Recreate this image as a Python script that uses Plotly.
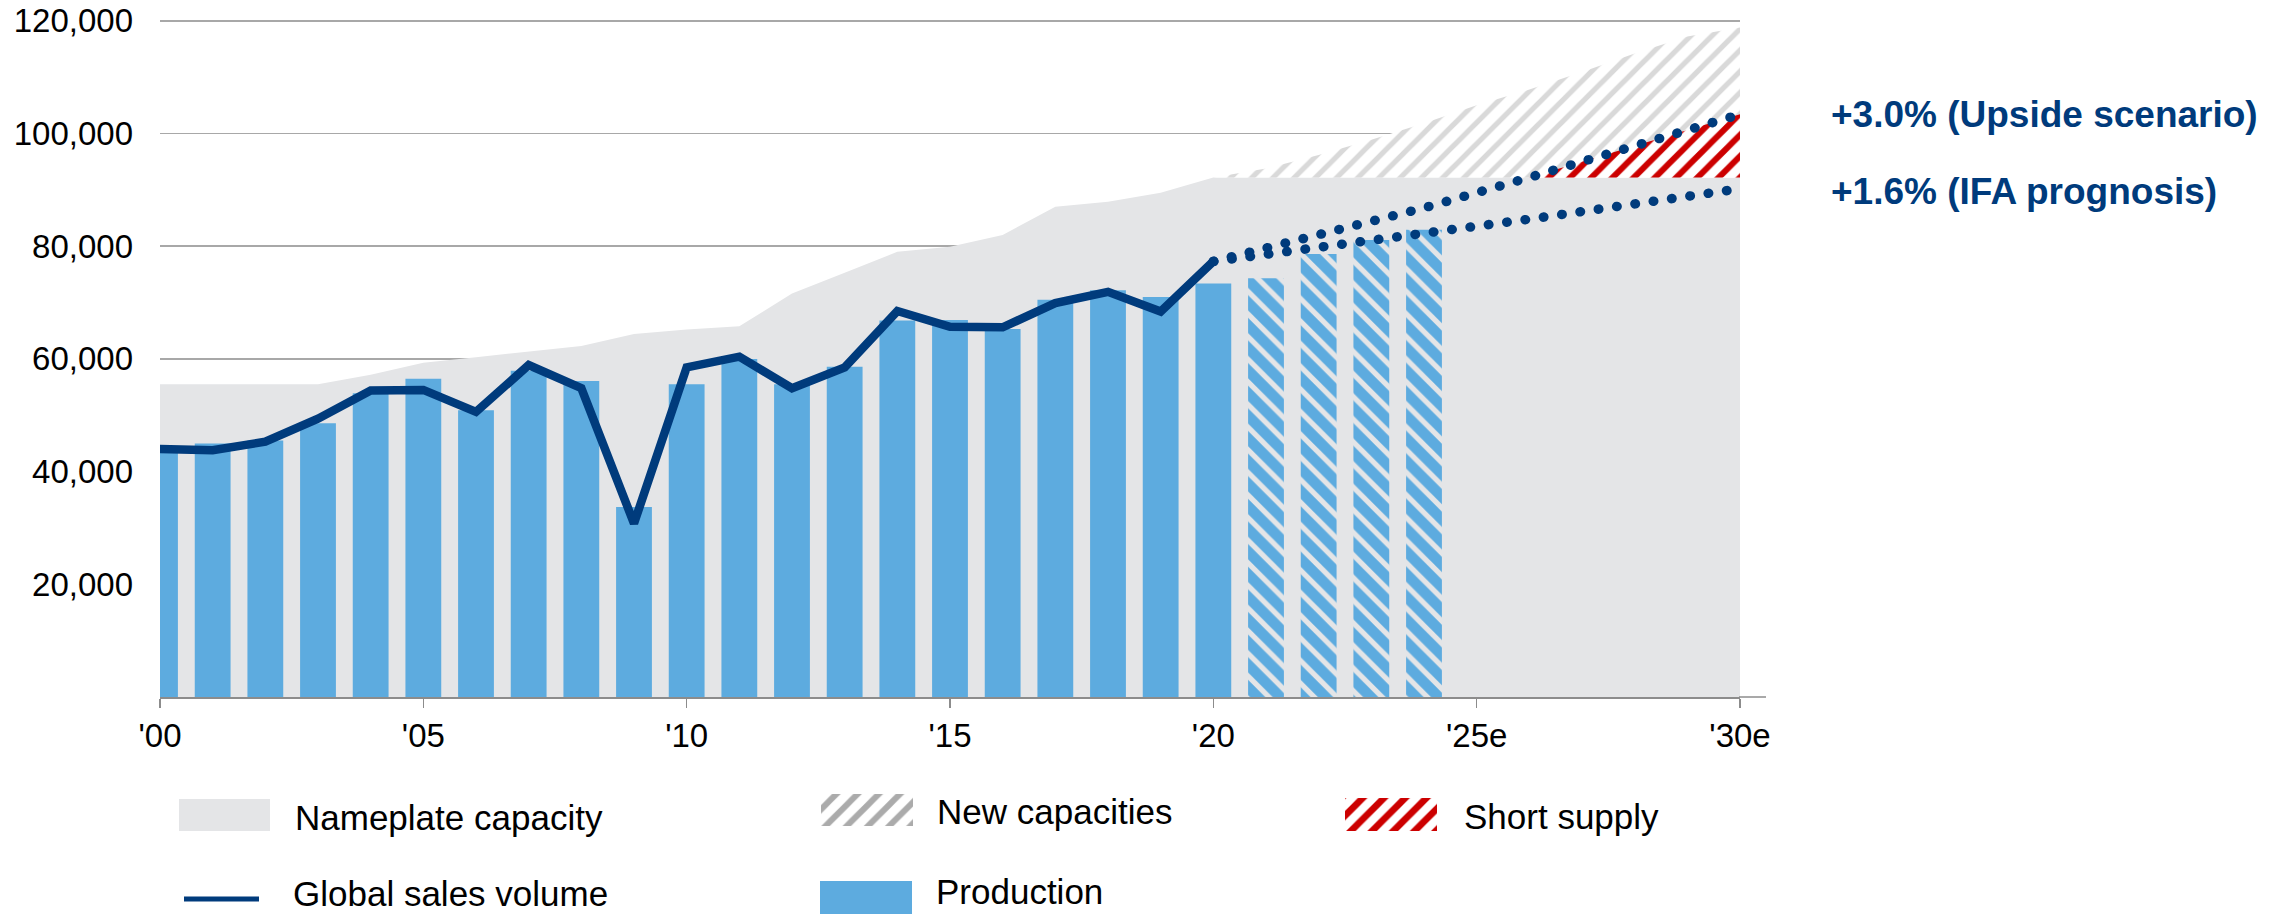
import plotly.graph_objects as go

W, H = 2287, 914

# ---------------- data ----------------
hist_years = [2000, 2001, 2002, 2003, 2004, 2005, 2006, 2007, 2008, 2009, 2010,
              2011, 2012, 2013, 2014, 2015, 2016, 2017, 2018, 2019, 2020]
production = [44000, 45000, 45500, 48600, 53900, 56500, 50900, 57900, 56100, 33700, 55500,
              60000, 55500, 58600, 66800, 66900, 65300, 70500, 72200, 71000, 73400]
sales_volume = [44000, 43800, 45300, 49400, 54400, 54500, 50600, 58900, 54800, 30800, 58500,
                60400, 54800, 58500, 68500, 65700, 65600, 69900, 71900, 68400, 77300]

forecast_years = [2021, 2022, 2023, 2024]
production_forecast = [74300, 78600, 81100, 82900]

capacity_years = [2000, 2001, 2002, 2003, 2004, 2005, 2006, 2007, 2008, 2009, 2010,
                  2011, 2012, 2013, 2014, 2015, 2016, 2017, 2018, 2019, 2020,
                  2021, 2022, 2023, 2024, 2025, 2026, 2027, 2028, 2029, 2030]
nameplate_capacity = [55500, 55500, 55500, 55500, 57200, 59300, 60300, 61300, 62300, 64400, 65200,
                      65800, 71600, 75300, 79000, 79900, 82000, 87000, 87900, 89500, 92200,
                      92200, 92200, 92200, 92200, 92200, 92200, 92200, 92200, 92200, 92200]

new_cap_years = [2020, 2021, 2022, 2023, 2024, 2025, 2026, 2027, 2028, 2029, 2030]
new_capacity_top = [92200, 93800, 96200, 98900, 101800, 105000, 107800, 110900, 114200, 117200, 118800]

scenario_years = [2020, 2022, 2024, 2026, 2028, 2030]
upside_scenario = [77300, 81900, 86800, 92200, 97800, 103400]
ifa_prognosis = [77300, 79700, 82300, 84800, 87500, 90200]

x_tickvals = [2000, 2005, 2010, 2015, 2020, 2025, 2030]
x_ticktext = ["'00", "'05", "'10", "'15", "'20", "'25e", "'30e"]
y_tickvals = [20000, 40000, 60000, 80000, 100000, 120000]
y_ticktext = ["20,000", "40,000", "60,000", "80,000", "100,000", "120,000"]

legend_labels = ["Nameplate capacity", "New capacities", "Short supply",
                 "Global sales volume", "Production"]
scenario_labels = ["+3.0% (Upside scenario)", "+1.6% (IFA prognosis)"]

# ---------------- styles ----------------
FONT = "Liberation Sans, Arial, sans-serif"
GRAY_AREA = "#E4E5E7"
BLUE = "#5DABDF"
NAVY = "#003B7C"
RED = "#CC0000"
AXIS_GRAY = "#8C8C8C"

cap_lookup = dict(zip(capacity_years, nameplate_capacity))

fig = go.Figure()

# Nameplate capacity area (base subplot)
fig.add_trace(go.Scatter(
    x=capacity_years, y=nameplate_capacity, mode="lines", fill="tozeroy",
    fillcolor=GRAY_AREA, line=dict(width=0, color=GRAY_AREA),
    hoverinfo="skip", showlegend=False, xaxis="x", yaxis="y"))

# New capacities (hatched)
base_new = [cap_lookup[y] for y in new_cap_years]
fig.add_trace(go.Scatter(
    x=new_cap_years + new_cap_years[::-1],
    y=new_capacity_top + base_new[::-1],
    mode="lines", fill="toself", fillcolor="white",
    fillpattern=dict(shape="/", fgcolor="#D9D9D9", bgcolor="white", size=15, solidity=0.35,
                     fgopacity=1, fillmode="replace"),
    line=dict(width=0, color="rgba(0,0,0,0)"),
    hoverinfo="skip", showlegend=False, xaxis="x", yaxis="y"))

# Short supply (red hatched) between nameplate and upside scenario
ss_x = [yr for yr, v in zip(scenario_years, upside_scenario) if v >= cap_lookup[yr]]
ss_top = [v for yr, v in zip(scenario_years, upside_scenario) if v >= cap_lookup[yr]]
ss_base = [cap_lookup[yr] for yr in ss_x]
fig.add_trace(go.Scatter(
    x=ss_x + ss_x[::-1], y=ss_top + ss_base[::-1],
    mode="lines", fill="toself", fillcolor="white",
    fillpattern=dict(shape="/", fgcolor=RED, bgcolor="white", size=15, solidity=0.4,
                     fgopacity=1, fillmode="replace"),
    line=dict(width=0, color="rgba(0,0,0,0)"),
    hoverinfo="skip", showlegend=False, xaxis="x", yaxis="y"))

# Production bars (overlay subplot so they sit above the area)
fig.add_trace(go.Bar(
    x=hist_years, y=production, width=0.68, marker=dict(color=BLUE, line=dict(width=0)),
    hoverinfo="skip", showlegend=False, xaxis="x3", yaxis="y3"))
fig.add_trace(go.Bar(
    x=forecast_years, y=production_forecast, width=0.68,
    marker=dict(color=BLUE, line=dict(width=0),
                pattern=dict(shape="\\", fgcolor=GRAY_AREA, bgcolor=BLUE, size=16, solidity=0.33,
                             fgopacity=1, fillmode="replace")),
    hoverinfo="skip", showlegend=False, xaxis="x3", yaxis="y3"))

# Global sales volume
fig.add_trace(go.Scatter(
    x=hist_years, y=sales_volume, mode="lines", line=dict(color=NAVY, width=8.5),
    hoverinfo="skip", showlegend=False, xaxis="x3", yaxis="y3"))

# Scenario dotted lines
for vals in (upside_scenario, ifa_prognosis):
    fig.add_trace(go.Scatter(
        x=scenario_years, y=vals, mode="lines",
        line=dict(color=NAVY, width=9.5, dash="0.5px,18px"),
        hoverinfo="skip", showlegend=False, xaxis="x3", yaxis="y3"))

# ---------------- legend (pixel-coordinate helper axes) ----------------
legend_boxes = {
    "Nameplate capacity": (179, 270, 799, 831),
    "New capacities": (821, 913, 794, 826),
    "Short supply": (1345, 1437, 798, 831),
    "Production": (820, 912, 881, 916),
}
legend_text_pos = {
    "Nameplate capacity": (293, 817),
    "New capacities": (935, 811),
    "Short supply": (1462, 816),
    "Global sales volume": (291, 893),
    "Production": (934, 891),
}

def box_poly(b):
    x0, x1, y0, y1 = b
    return [x0, x1, x1, x0, x0], [y0, y0, y1, y1, y0]

for name, pat in (("New capacities", dict(shape="/", fgcolor="#ABABAB", bgcolor="white", size=15,
                                          solidity=0.4, fgopacity=1, fillmode="replace")),
                  ("Short supply", dict(shape="/", fgcolor=RED, bgcolor="white", size=15,
                                        solidity=0.45, fgopacity=1, fillmode="replace"))):
    px, py = box_poly(legend_boxes[name])
    fig.add_trace(go.Scatter(x=px, y=py, mode="lines", fill="toself", fillcolor="white",
                             fillpattern=pat, line=dict(width=0, color="rgba(0,0,0,0)"),
                             hoverinfo="skip", showlegend=False, xaxis="x2", yaxis="y2"))

shapes = []
for name, col in (("Nameplate capacity", GRAY_AREA), ("Production", BLUE)):
    x0, x1, y0, y1 = legend_boxes[name]
    shapes.append(dict(type="rect", xref="x2", yref="y2", x0=x0, x1=x1, y0=y0, y1=y1,
                       fillcolor=col, line=dict(width=0), layer="above"))
shapes.append(dict(type="line", xref="x2", yref="y2", x0=184, x1=259, y0=899, y1=899,
                   line=dict(color=NAVY, width=5)))
# x-axis line extension beyond the last tick
shapes.append(dict(type="line", xref="paper", yref="paper", x0=1739 / W, x1=1766 / W,
                   y0=(H - 697) / H, y1=(H - 697) / H, line=dict(color=AXIS_GRAY, width=1.5)))

annotations = []
for name, (tx, ty) in legend_text_pos.items():
    annotations.append(dict(xref="x2", yref="y2", x=tx, y=ty, text=name, showarrow=False,
                            xanchor="left", yanchor="middle",
                            font=dict(family=FONT, size=35, color="#000000")))
for txt, ty in zip(scenario_labels, (115, 192)):
    annotations.append(dict(xref="paper", yref="paper", x=1829 / W, y=1 - ty / H, text="<b>" + txt + "</b>",
                            showarrow=False, xanchor="left", yanchor="middle",
                            font=dict(family=FONT, size=37, color=NAVY)))

PLOT_L, PLOT_R, PLOT_T, PLOT_B = 160, 1740, 18, 697
xdom = [PLOT_L / W, PLOT_R / W]
ydom = [(H - PLOT_B) / H, (H - PLOT_T) / H]
XR = [2000, 2030]
YR = [0, 120500]

fig.update_layout(
    width=W, height=H, autosize=False,
    margin=dict(l=0, r=0, t=0, b=0, pad=0, autoexpand=False),
    paper_bgcolor="white", plot_bgcolor="rgba(0,0,0,0)",
    barmode="overlay", showlegend=False, hovermode=False,
    font=dict(family=FONT, size=33, color="#000000"),
    xaxis=dict(domain=xdom, range=XR, tickmode="array", tickvals=x_tickvals, ticktext=x_ticktext,
               ticks="outside", ticklen=9, tickwidth=1.5, tickcolor=AXIS_GRAY,
               showline=True, linecolor=AXIS_GRAY, linewidth=1.5, showgrid=False, zeroline=False,
               tickfont=dict(family=FONT, size=33, color="#000000"), ticklabelstandoff=0,
               anchor="y", fixedrange=True, automargin=False),
    yaxis=dict(domain=ydom, range=YR, tickmode="array", tickvals=y_tickvals, ticktext=y_ticktext,
               ticks="", showline=False, showgrid=True, gridcolor="#A8A8A8", gridwidth=1.5,
               zeroline=False, tickfont=dict(family=FONT, size=33, color="#000000"),
               ticklabelstandoff=26, anchor="x", fixedrange=True, automargin=False),
    xaxis3=dict(overlaying="x", range=XR, visible=False, anchor="y3", fixedrange=True, automargin=False),
    yaxis3=dict(overlaying="y", range=YR, visible=False, anchor="x3", fixedrange=True, automargin=False),
    xaxis2=dict(domain=[0, 1], range=[0, W], visible=False, anchor="y2", fixedrange=True, automargin=False),
    yaxis2=dict(domain=[0, (H - PLOT_B) / H], range=[H, PLOT_B], visible=False, anchor="x2",
                fixedrange=True, automargin=False),
    shapes=shapes, annotations=annotations,
)

post = """
var st = document.createElement('style');
st.innerHTML = 'html,body{margin:0;padding:0;overflow:hidden;} .scatterlayer .js-line{stroke-linecap:round !important;}';
document.head.appendChild(st);
"""
fig.write_html("out.html", config={"displayModeBar": False, "staticPlot": True}, post_script=post)
